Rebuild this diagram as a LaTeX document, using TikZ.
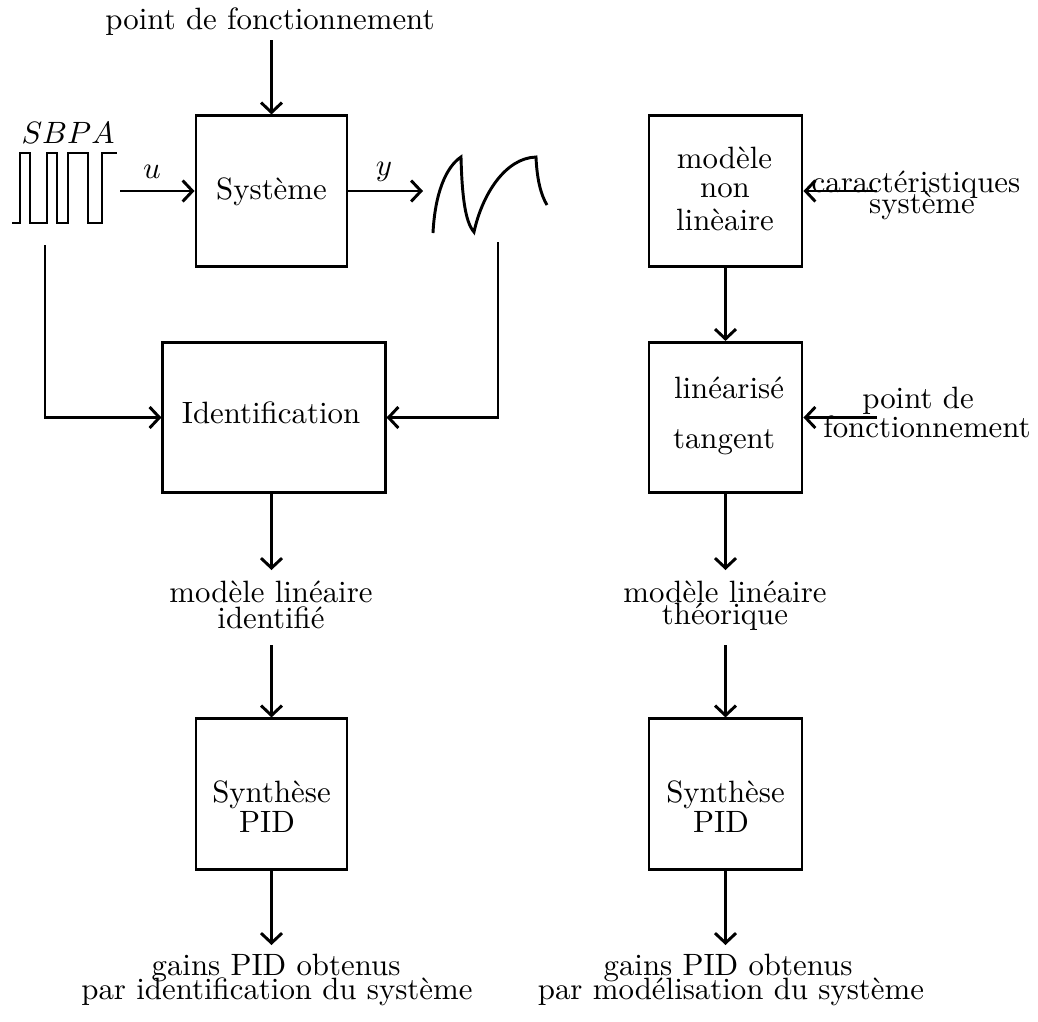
\documentclass[tikz,border=0pt]{standalone}
\usetikzlibrary{arrows.meta}
\begin{document}
\begin{tikzpicture}[x=0.3242pt,y=-0.3242pt,
  line width=0.95pt,
  box/.style={draw,inner sep=0pt,minimum width=48.95pt,minimum height=48.7pt},
  txt/.style={inner sep=0pt,anchor=base},
  arr/.style={-{Straight Barb[length=3.2pt,width=6.8pt]}},
  wave/.style={line width=0.95pt}
]
\useasboundingbox (0,0) rectangle (1038,1021);

% boxes
\node[box] (sys) at (271.5,191) {};
\node[box,minimum width=72pt] (ident) at (274,417.5) {};
\node[box] (synL) at (271.5,794) {};
\node[box,minimum width=49.6pt] (nl) at (725.5,191) {};
\node[box,minimum width=49.6pt] (lin) at (725.5,417.5) {};
\node[box,minimum width=49.6pt] (synR) at (725.5,794) {};

% texts left column
\node[txt] (tpf) at (270,29) {point de fonctionnement};
\node[txt] (tsbpa) at (68,143) {$SBPA$};
\node[txt] (tu) at (152,178) {$u$};
\node[txt] (ty) at (384,175) {$y$};
\node[txt] (tsys) at (271.5,199) {Système};
\node[txt] (tident) at (271,423) {Identification};
\node[txt] (tmlA) at (271,602) {modèle linéaire};
\node[txt] (tmlB) at (271,628) {identifié};
\node[txt] (tsynLa) at (271.5,802) {Synthèse};
\node[txt] (tsynLb) at (267,832) {PID};
\node[txt] (tgLa) at (276,975) {gains PID obtenus};
\node[txt] (tgLb) at (277,999) {par identification du système};

% texts right column
\node[txt] (tnlA) at (724.5,168) {modèle};
\node[txt] (tnlB) at (725,197) {non};
\node[txt] (tnlC) at (725,230) {linèaire};
\node[txt] (tcarA) at (916,192) {caractéristiques};
\node[txt] (tcarB) at (922,213) {système};
\node[txt] (tlinA) at (729,398) {linéarisé};
\node[txt] (tlinB) at (724,448) {tangent};
\node[txt] (tptA) at (918,408) {point de};
\node[txt] (tptB) at (927,437) {fonctionnement};
\node[txt] (tmtA) at (725,602) {modèle linéaire};
\node[txt] (tmtB) at (725,624) {théorique};
\node[txt] (tsynRa) at (725.5,802) {Synthèse};
\node[txt] (tsynRb) at (721,832) {PID};
\node[txt] (tgRa) at (728,975) {gains PID obtenus};
\node[txt] (tgRb) at (731,999) {par modélisation du système};

% free ends
\coordinate (cTop) at (271.5,40);
\coordinate (cU) at (120,191);
\coordinate (cY) at (423,191);
\coordinate (cSigL) at (45,245);
\coordinate (cSigR) at (498,242);
\coordinate (mL1) at (271.5,570);
\coordinate (mL2) at (271.5,645);
\coordinate (gL) at (271.5,945);
\coordinate (mR1) at (725.5,570);
\coordinate (mR2) at (725.5,645);
\coordinate (gR) at (725.5,945);
\coordinate (cCar) at (877,191);
\coordinate (cPt) at (877,417.5);

% SBPA signal
\draw[wave] (12,223) -- (20,223) -- (20,153) -- (30,153) -- (30,223) -- (47,223) -- (47,153)
  -- (57,153) -- (57,223) -- (68,223) -- (68,153) -- (88,153) -- (88,223) -- (102,223)
  -- (102,153) -- (117,153);

% output curve
\draw[wave] (433,233) .. controls (435,193) and (446,167) .. (461,157)
  .. controls (462,195) and (465,222) .. (474,232)
  .. controls (482,195) and (505,158) .. (536,157)
  .. controls (537,180) and (541,195) .. (547,205);

% connectors left
\draw[arr] (cTop) -- (sys);
\draw[arr] (cU) -- (sys);
\draw[arr] (sys) -- (cY);
\draw[arr] (cSigL) |- (ident.west);
\draw[arr] (cSigR) |- (ident.east);
\draw[arr] (ident.south -| mL1) -- (mL1);
\draw[arr] (mL2) -- (synL);
\draw[arr] (synL) -- (gL);

% connectors right
\draw[arr] (cCar) -- (nl);
\draw[arr] (nl) -- (lin);
\draw[arr] (cPt) -- (lin);
\draw[arr] (lin) -- (mR1);
\draw[arr] (mR2) -- (synR);
\draw[arr] (synR) -- (gR);
\end{tikzpicture}
\end{document}
